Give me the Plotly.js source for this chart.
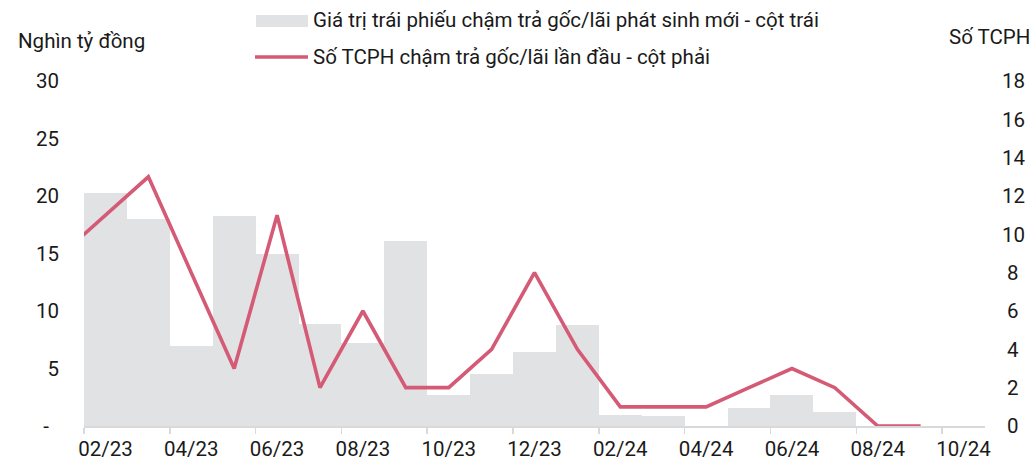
<!DOCTYPE html>
<html>
<head>
<meta charset="utf-8">
<script src="https://cdn.plot.ly/plotly-3.0.1.min.js"></script>
<style>html,body{margin:0;padding:0;background:#fff;}#chart{width:1035px;height:462px;}</style>
</head>
<body>
<div id="chart"></div>
<script>
// Months (01/23 sits just left of the visible range)
var months = ["01/23","02/23","03/23","04/23","05/23","06/23","07/23","08/23","09/23","10/23","11/23","12/23",
              "01/24","02/24","03/24","04/24","05/24","06/24","07/24","08/24","09/24","10/24"];
// Value of bonds newly late on principal/interest (thousand billion VND) - left axis
var barValues = [24.2, 20.3, 18.0, 7.0, 18.3, 15.0, 8.9, 7.2, 16.1, 2.7, 4.5, 6.4,
                 8.8, 1.0, 0.9, 0, 1.6, 2.7, 1.2, 0, 0, 0];
// Number of issuers late for the first time - right axis
var lineValues = [9, 11, 13, 8, 3, 11, 2, 6, 2, 2, 4, 8,
                  4, 1, 1, 1, 2, 3, 2, 0, 0, null];
var leftTicks = [0, 5, 10, 15, 20, 25, 30];
var leftTickText = ["-\u00A0\u00A0", "5", "10", "15", "20", "25", "30"];
var rightTicks = [0, 2, 4, 6, 8, 10, 12, 14, 16, 18];
var rightTickText = ["\u00A00", "\u00A02", "\u00A04", "\u00A06", "\u00A08", "10", "12", "14", "16", "18"];
var barName = "Giá trị trái phiếu chậm trả gốc/lãi phát sinh mới - cột trái";
var lineName = "Số TCPH chậm trả gốc/lãi lần đầu - cột phải";
var leftTitle = "Nghìn tỷ đồng";
var rightTitle = "Số TCPH";

var barColor = "#e1e2e4";
var lineColor = "#d45a75";
var textColor = "#1a1a1a";
var FONT = "Roboto, 'Noto Sans', sans-serif";
var FS = 20.5;

var traces = [
  {type: "bar", x: months, y: barValues, name: barName, marker: {color: barColor, line: {width: 0}},
   yaxis: "y", showlegend: false, hoverinfo: "skip"},
  {type: "scatter", mode: "lines", x: months, y: lineValues, name: lineName,
   line: {color: lineColor, width: 3.6}, yaxis: "y2", showlegend: false, hoverinfo: "skip"}
];

var L = 84, R = 50, T = 81, B = 36, W = 1035, H = 462;
var pw = W - L - R, ph = H - T - B;
function px(x) { return (x - L) / pw; }
function py(y) { return (H - B - y) / ph; }

var layout = {
  width: W, height: H,
  margin: {l: L, r: R, t: T, b: B, pad: 0},
  paper_bgcolor: "#ffffff", plot_bgcolor: "#ffffff",
  font: {family: FONT, size: FS, color: textColor},
  bargap: 0,
  showlegend: false,
  xaxis: {
    type: "category", range: [0.5, 21.5],
    tickmode: "linear", tick0: 1, dtick: 2, tickangle: 0,
    tickson: "boundaries", ticks: "outside", ticklen: 6, tickwidth: 1.5, tickcolor: "#d9d9d9",
    showline: true, linecolor: "#d9d9d9", linewidth: 1.5,
    showgrid: false, zeroline: false,
    tickfont: {family: FONT, size: FS, color: textColor},
    ticklabelstandoff: 4,
    fixedrange: true
  },
  yaxis: {
    range: [0, 30], tickmode: "array", tickvals: leftTicks, ticktext: leftTickText,
    showgrid: false, zeroline: false, showline: false, ticks: "",
    tickfont: {family: FONT, size: FS, color: textColor},
    ticklabelstandoff: 24, fixedrange: true
  },
  yaxis2: {
    overlaying: "y", side: "right",
    range: [0, 18], tickmode: "array", tickvals: rightTicks, ticktext: rightTickText,
    showgrid: false, zeroline: false, showline: false, ticks: "",
    tickfont: {family: FONT, size: FS, color: textColor},
    ticklabelstandoff: 16, fixedrange: true
  },
  shapes: [
    {type: "rect", xref: "paper", yref: "paper", x0: px(256), x1: px(308), y0: py(27), y1: py(15),
     fillcolor: barColor, line: {width: 0}},
    {type: "line", xref: "paper", yref: "paper", x0: px(255), x1: px(308), y0: py(57), y1: py(57),
     line: {color: lineColor, width: 3.6}}
  ],
  annotations: [
    {xref: "paper", yref: "paper", x: px(311), y: py(20), xanchor: "left", yanchor: "middle",
     text: barName, showarrow: false, font: {family: FONT, size: FS, color: textColor}},
    {xref: "paper", yref: "paper", x: px(311), y: py(57), xanchor: "left", yanchor: "middle",
     text: lineName, showarrow: false, font: {family: FONT, size: FS, color: textColor}},
    {xref: "paper", yref: "paper", x: px(16), y: py(41), xanchor: "left", yanchor: "middle",
     text: leftTitle, showarrow: false, font: {family: FONT, size: FS, color: textColor}},
    {xref: "paper", yref: "paper", x: px(1032), y: py(37), xanchor: "right", yanchor: "middle",
     text: rightTitle, showarrow: false, font: {family: FONT, size: FS, color: textColor}}
  ]
};

Plotly.newPlot("chart", traces, layout, {displayModeBar: false, staticPlot: true});
</script>
</body>
</html>
